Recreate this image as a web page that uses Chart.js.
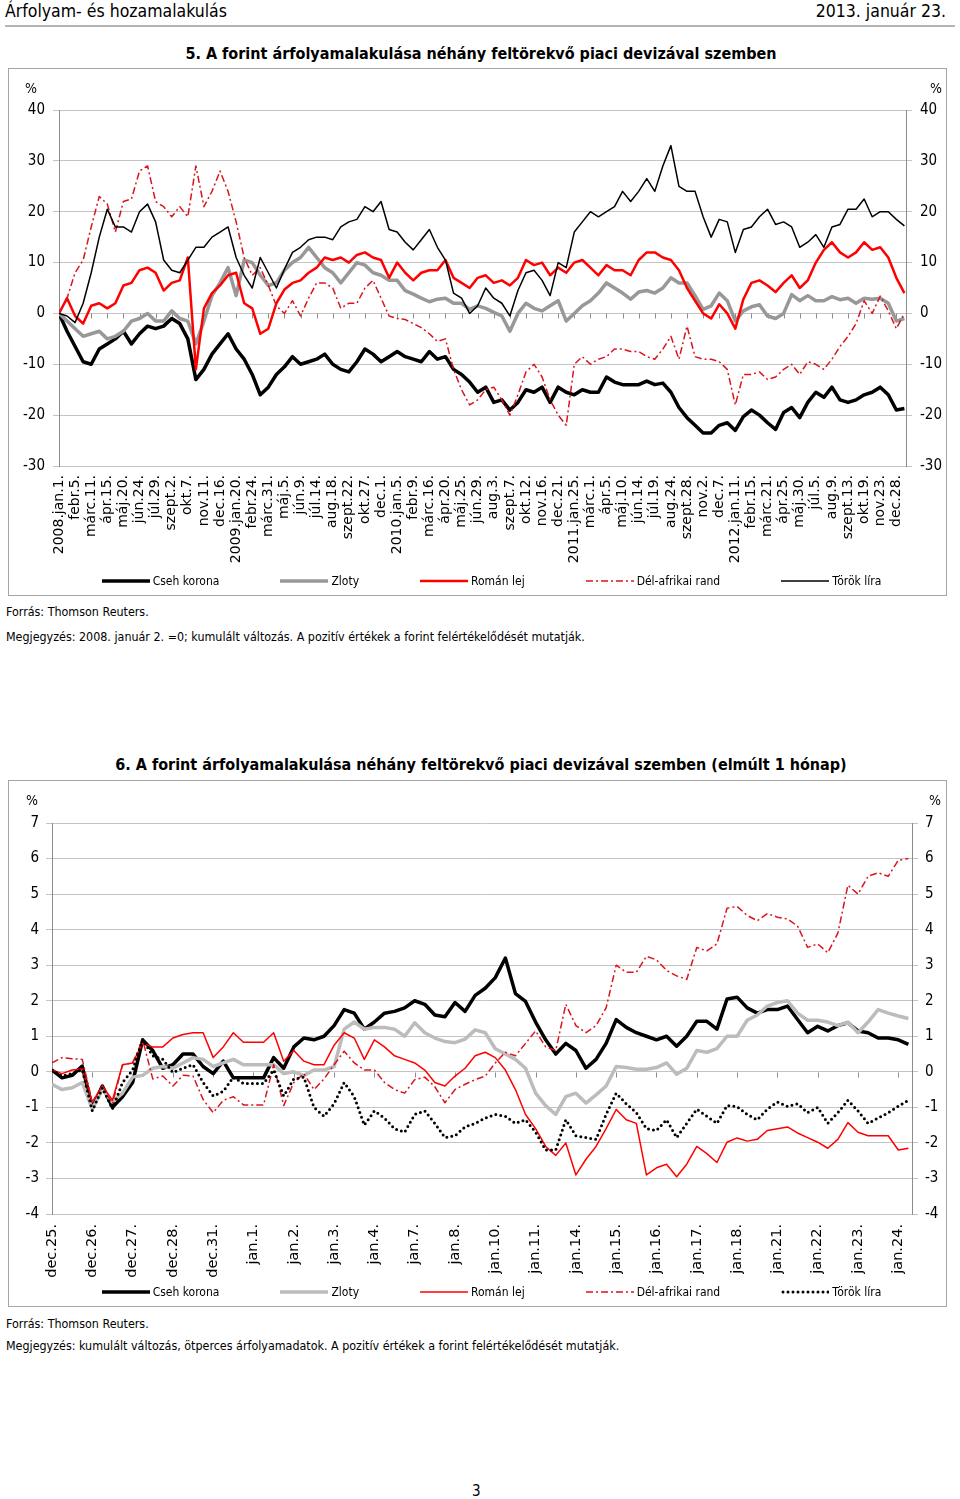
<!DOCTYPE html>
<html><head><meta charset="utf-8">
<script src="https://cdn.jsdelivr.net/npm/chart.js@4.4.1/dist/chart.umd.min.js"></script>
<style>
body{margin:0;background:#fff;}
#page{position:relative;width:960px;height:1499px;font-family:'DejaVu Sans Condensed','DejaVu Sans',sans-serif;color:#000;overflow:hidden;}
.t{position:absolute;white-space:nowrap;line-height:20px;}
.box{position:absolute;border:1px solid #a6a6a6;box-sizing:border-box;}
.box canvas{position:absolute;left:0;top:0;}
.legend{position:absolute;display:flex;justify-content:center;align-items:center;gap:61px;font-size:12px;height:16px;}
.legend .it{display:flex;align-items:center;gap:3px;}
.note{font-size:12.4px;}
</style></head>
<body><div id="page">
<div class="t" style="left:5px;top:1px;font-size:17.5px;">Árfolyam- és hozamalakulás</div>
<div class="t" style="right:14px;top:1px;font-size:17.5px;">2013. január 23.</div>
<div style="position:absolute;left:5px;top:25px;width:950px;height:2px;background:#b4b4b4;"></div>

<div class="t" style="left:0;width:962px;text-align:center;top:44px;font-size:16px;font-weight:bold;">5. A forint árfolyamalakulása néhány feltörekvő piaci devizával szemben</div>
<div class="box" style="left:8px;top:68px;width:939px;height:528px;"><canvas id="c5" width="937" height="526"></canvas></div>
<div class="t" style="left:25px;top:78px;font-size:14px;">%</div>
<div class="t" style="left:930px;top:78px;font-size:14px;">%</div>
<div class="legend" id="lg5" style="left:22px;top:573px;width:939px;"></div>
<div class="t note" style="left:6px;top:602px;">Forrás: Thomson Reuters.</div>
<div class="t note" style="left:6px;top:627px;">Megjegyzés: 2008. január 2. =0; kumulált változás. A pozitív értékek a forint felértékelődését mutatják.</div>

<div class="t" style="left:0;width:962px;text-align:center;top:755px;font-size:16px;font-weight:bold;">6. A forint árfolyamalakulása néhány feltörekvő piaci devizával szemben (elmúlt 1 hónap)</div>
<div class="box" style="left:8px;top:780px;width:939px;height:527px;"><canvas id="c6" width="937" height="525"></canvas></div>
<div class="t" style="left:26px;top:790px;font-size:14px;">%</div>
<div class="t" style="left:929px;top:790px;font-size:14px;">%</div>
<div class="legend" id="lg6" style="left:22px;top:1284px;width:939px;"></div>
<div class="t note" style="left:6px;top:1314px;">Forrás: Thomson Reuters.</div>
<div class="t note" style="left:6px;top:1336px;">Megjegyzés: kumulált változás, ötperces árfolyamadatok. A pozitív értékek a forint felértékelődését mutatják.</div>

<div class="t" style="left:472px;top:1481px;font-size:15px;">3</div>
</div>
<script>
// ---------- Chart 5 data (points every half label interval, 2008.jan.1 – 2013.jan.22) ----------
const ticks5 = ['2008.jan.1.','febr.5.','márc.11.','ápr.15.','máj.20.','jún.24.','júl.29.','szept.2.','okt.7.','nov.11.','dec.16.',
 '2009.jan.20.','febr.24.','márc.31.','máj.5.','jún.9.','júl.14.','aug.18.','szept.22.','okt.27.','dec.1.',
 '2010.jan.5.','febr.9.','márc.16.','ápr.20.','máj.25.','jún.29.','aug.3.','szept.7.','okt.12.','nov.16.','dec.21.',
 '2011.jan.25.','márc.1.','ápr.5.','máj.10.','jún.14.','júl.19.','aug.24.','szept.28.','nov.2.','dec.7.',
 '2012.jan.11.','febr.15.','márc.21.','ápr.25.','máj.30.','júl.5.','aug.9.','szept.13.','okt.19.','nov.23.','dec.28.'];
const step5 = 0.5;
const xMax5 = 52.6;
const czk5 = [0,-3.5,-6.5,-9.5,-10,-7,-6,-5,-3.5,-6,-4,-2.5,-3,-2.5,-1,-2,-5,-13,-11,-8,-6,-4,-7,-9,-12,-16,-14.5,-12,-10.5,-8.5,-10,-9.5,-9,-8,-10,-11,-11.5,
 -9.5,-7,-8,-9.5,-8.5,-7.5,-8.5,-9,-9.5,-7.5,-9,-8.5,-11,-12,-13.5,-15.5,-14.5,-17.5,-17,-19,-17.5,-15,-15.5,-14.5,-17.5,-14.5,-15.5,-16,-15,-15.5,-15.5,-12.5,-13.5,-14,-14,-14,
 -13.3,-14,-13.7,-15.5,-18.5,-20.5,-22,-23.5,-23.5,-22,-21.5,-23,-20.3,-19,-20,-21.5,-22.8,-19.5,-18.5,-20.5,-17.5,-15.5,-16.5,-14.5,-17,-17.5,-17,-16,-15.5,-14.5,-16,-19,-18.7];
const pln5 = [0,-1.5,-3,-4.5,-4,-3.5,-5,-4.5,-3.5,-1.5,-1,0,-1.5,-1.5,0.5,-1,-1.5,-6,-1.5,3.5,6,9,3.5,10.5,10,7.5,5.5,6,8.5,10,11,13,11,9,8,6,8,
 10,9.5,8,7.5,6.5,6.5,4.5,3.8,3,2.3,2.8,3,2,2,0.8,1.5,1,0.2,-0.5,-3.5,0,2,1,0.5,1.5,2.5,-1.5,0,1.5,2.5,4,6,5,4,2.8,4.2,
 4.5,4,5,7,6,6,3.5,0.8,1.5,4,2.5,-1.5,0.5,1.3,1.7,-0.5,-1,0,3.7,2.5,3.5,2.5,2.5,3.3,2.7,3,2,3,2.8,3,2,-1.5,-1];
const ron5 = [0,3,-0.5,-2,1.5,2,1,2,5.5,6,8.5,9,8,4.5,6,6.5,11,-11,1,4,5.5,7.5,8,2,1,-4,-3,2,4.7,6,6.5,8,9,11,10.5,11,10,
 11.5,12,11,10.5,7,10,8,6.5,8,8.5,8.5,10.5,7,6,5,7,7.5,6,6.5,5.5,7,10.5,9.5,10,7.5,9,8,10,10.5,9,7.5,9.5,8.5,8.5,7.5,10.5,
 12,12,11,10.5,8.5,5,2.5,0,-1,1.8,0,-3,2.8,6,6.5,5.5,4.2,6,7.5,5,6.5,10,12.5,14,12,11,12,14,12.5,13,11,7,4];
const zar5 = [0,3,8,10.5,17,23,21.5,16,22,22.5,28,29,22,21,19,21,19,29,21,24,28,24,18,11,7.5,9,5.5,1.5,0,2.5,-0.5,3,6,6,5,1,2,
 2,5,6.5,3,-0.5,-1,-1.2,-2,-2.8,-4,-5.5,-5,-11,-15,-18,-17,-15,-14.5,-17,-20,-16,-11.5,-10,-12.5,-17,-20,-22,-10,-8.5,-10,-9,-8.5,-7,-7,-7.5,-7.5,
 -8.5,-9,-7,-4.5,-9,-2.5,-8.5,-9,-9,-9.5,-11,-18,-12,-12,-11.5,-13,-12.5,-11,-10,-12,-9.5,-10,-11,-9,-6.5,-4.5,-2,2.5,0,3.4,0.5,-3,0];
const try5 = [0,-0.5,-1.8,2,8,15,20.5,17,17,16,20,21.5,18,10.5,8.5,8,10.5,13,13,15,16,17,11,7.5,5,11,8,5,8.7,12,13,14.5,15,15,14.5,17,18,
 18.5,21,20,22,16.5,16,14,12.5,14.5,16.5,13,10.5,4,3,0,1.5,5,3,2,-0.5,4.5,8,8.5,6.5,3.5,10,9,16,18,20,19,20,21,24,22,24,
 26.5,24,29,33,25,24,24,19,15,18.5,18,12,16.5,17,19,20.5,17.5,18,17,13,14,15.5,13,17,17.5,20.5,20.5,22.5,19,20,20,18.5,17.2];

// ---------- Chart 6 data (points every quarter day label, dec.25 – jan.23) ----------
const ticks6 = ['dec.25.','dec.26.','dec.27.','dec.28.','dec.31.','jan.1.','jan.2.','jan.3.','jan.4.','jan.7.','jan.8.',
 'jan.10.','jan.11.','jan.14.','jan.15.','jan.16.','jan.17.','jan.18.','jan.21.','jan.22.','jan.23.','jan.24.'];
const step6 = 0.25;
const xMax6 = 21.34;
const czk6 = [0.05,-0.17,-0.1,0.16,-1.0,-0.4,-1.0,-0.7,-0.3,0.9,0.6,0.1,0.2,0.5,0.5,0.15,-0.05,0.3,-0.17,-0.17,-0.17,-0.17,0.4,0.1,0.7,0.95,0.9,1.0,1.3,
 1.75,1.65,1.2,1.4,1.65,1.7,1.8,2.0,1.9,1.6,1.55,1.95,1.7,2.15,2.35,2.65,3.2,2.2,1.98,1.4,0.9,0.5,0.8,0.6,0.1,0.35,0.8,1.47,1.25,
 1.1,1.0,0.9,1.0,0.72,1.0,1.42,1.42,1.2,2.05,2.1,1.8,1.65,1.75,1.75,1.85,1.47,1.1,1.28,1.15,1.3,1.38,1.15,1.1,0.95,0.95,0.9,0.77];
const pln6 = [-0.35,-0.5,-0.45,-0.3,-1.05,-0.5,-0.85,-0.6,-0.15,-0.1,0.1,0.15,0.1,0.25,0.4,0.35,0.15,0.25,0.35,0.2,0.2,0.2,0.2,-0.05,0,-0.1,0.05,0.05,0.15,
 1.2,1.4,1.2,1.25,1.25,1.2,1.0,1.38,1.1,0.95,0.85,0.82,0.92,1.18,1.1,0.65,0.5,0.35,0.1,-0.6,-0.95,-1.2,-0.7,-0.6,-0.88,-0.65,-0.4,0.15,0.12,
 0.07,0.07,0.12,0.25,-0.07,0.1,0.6,0.55,0.65,1.0,1.0,1.45,1.6,1.85,1.95,2.0,1.65,1.45,1.45,1.4,1.3,1.4,1.1,1.4,1.75,1.65,1.57,1.5];
const ron6 = [0.05,-0.05,0.05,0.08,-0.85,-0.4,-0.8,0.2,0.25,0.8,0.7,0.7,0.95,1.05,1.1,1.1,0.4,0.7,1.1,0.83,0.83,0.83,1.1,0.3,0.6,0.3,0.2,0.2,0.75,
 1.1,0.95,0.35,0.9,0.7,0.45,0.35,0.25,0.05,-0.3,-0.4,-0.12,0.1,0.45,0.55,0.4,0.05,-0.5,-1.2,-1.6,-2.1,-2.35,-2.0,-2.9,-2.46,-2.1,-1.6,-1.06,-1.35,
 -1.45,-2.9,-2.7,-2.6,-2.95,-2.6,-2.1,-2.3,-2.55,-1.98,-1.86,-1.95,-1.9,-1.65,-1.6,-1.55,-1.72,-1.85,-1.98,-2.15,-1.9,-1.43,-1.7,-1.8,-1.8,-1.8,-2.2,-2.15];
const zar6 = [0.25,0.4,0.37,0.35,-0.85,-0.4,-0.9,0.2,0.25,0.9,-0.2,-0.12,-0.4,-0.1,-0.12,-0.78,-1.15,-0.8,-0.7,-0.93,-0.93,-0.93,0.2,-0.95,-0.3,-0.05,-0.5,-0.2,0.2,
 0.58,0.25,0.05,0.05,-0.3,-0.5,-0.6,-0.22,-0.15,-0.42,-0.87,-0.5,-0.35,-0.22,-0.12,0.25,0.55,0.45,0.8,1.15,0.7,0.6,1.9,1.3,1.1,1.3,1.8,3.0,2.8,
 2.8,3.25,3.15,2.85,2.7,2.6,3.5,3.4,3.6,4.6,4.65,4.4,4.25,4.45,4.35,4.3,4.1,3.5,3.6,3.35,3.9,5.25,5.0,5.5,5.6,5.5,5.95,6.0];
const try6 = [0.05,-0.12,-0.05,0.06,-1.1,-0.45,-1.05,-0.3,0.05,0.9,0.45,0.35,-0.02,0.1,0.2,-0.3,-0.68,-0.55,-0.15,-0.33,-0.33,-0.33,0.05,-0.68,-0.2,-0.15,-1.0,-1.25,-0.9,
 -0.3,-0.7,-1.5,-1.1,-1.3,-1.6,-1.7,-1.2,-1.1,-1.45,-1.85,-1.8,-1.55,-1.45,-1.3,-1.2,-1.25,-1.45,-1.35,-1.7,-2.2,-2.2,-1.35,-1.8,-1.85,-1.9,-1.2,-0.6,-0.9,
 -1.15,-1.6,-1.65,-1.35,-1.85,-1.45,-1.05,-1.25,-1.45,-0.95,-0.98,-1.2,-1.35,-1.05,-0.85,-0.97,-0.9,-1.15,-1.0,-1.45,-1.15,-0.8,-1.1,-1.45,-1.3,-1.15,-0.97,-0.8];

const names = ['Cseh korona','Zloty','Román lej','Dél-afrikai rand','Török líra'];

// ---------- styles ----------
const FONT = "'DejaVu Sans Condensed','DejaVu Sans',sans-serif";
const XFONT = "'DejaVu Sans',sans-serif";
const GRID = '#c4c4c4', AXIS = '#8c8c8c';
const style5 = [
  {color:'#000000', width:3.5, dash:[], cap:'butt'},
  {color:'#989898', width:3.5, dash:[], cap:'butt'},
  {color:'#ff0000', width:2.5, dash:[], cap:'butt'},
  {color:'#d9141b', width:1.5, dash:[7,3,2,3], cap:'butt'},
  {color:'#000000', width:1.5, dash:[], cap:'butt'}
];
const style6 = [
  {color:'#000000', width:3.5, dash:[], cap:'butt'},
  {color:'#bcbcbc', width:3.5, dash:[], cap:'butt'},
  {color:'#ff0000', width:1.5, dash:[], cap:'butt'},
  {color:'#d9141b', width:1.5, dash:[7,3,2,3], cap:'butt'},
  {color:'#000000', width:3, dash:[0,5], cap:'round'}
];

const toPts = (arr, step) => arr.map((v, k) => ({x: k * step, y: v}));

const zeroTicks = {
  id: 'zeroTicks',
  beforeDatasetsDraw(chart) {
    const {ctx, scales: {x, y}} = chart;
    const y0 = Math.round(y.getPixelForValue(0)) + 0.5;
    ctx.save();
    ctx.strokeStyle = AXIS; ctx.lineWidth = 1;
    x.ticks.forEach(t => {
      const px = Math.round(x.getPixelForValue(t.value)) + 0.5;
      ctx.beginPath(); ctx.moveTo(px, y0); ctx.lineTo(px, y0 + 5); ctx.stroke();
    });
    ctx.restore();
  }
};

function makeChart(id, series, styles, step, xMax, tickLabels, yMin, yMax, yStep, dims) {
  const datasets = series.map((arr, k) => ({
    label: names[k],
    data: toPts(arr, step),
    borderColor: styles[k].color,
    backgroundColor: styles[k].color,
    borderWidth: styles[k].width,
    borderDash: styles[k].dash,
    borderCapStyle: styles[k].cap,
    borderJoinStyle: 'round',
    pointRadius: 0,
    tension: 0,
    fill: false,
    order: series.length - k
  }));
  const yAxis = (pos, width) => ({
    type: 'linear', position: pos, min: yMin, max: yMax,
    afterFit: s => { s.width = width; },
    ticks: {stepSize: yStep, color: '#000', padding: dims.tickPad, font: {family: FONT, size: 15}},
    grid: {color: GRID, lineWidth: 1, tickLength: 6, drawOnChartArea: pos === 'left', tickColor: GRID},
    border: {display: true, color: AXIS, width: 1}
  });
  return new Chart(document.getElementById(id), {
    type: 'line',
    data: {datasets},
    plugins: [zeroTicks],
    options: {
      responsive: false, animation: false,
      layout: {padding: {top: dims.top, bottom: dims.bottom, left: 0, right: 0}},
      plugins: {legend: {display: false}, tooltip: {enabled: false}},
      scales: {
        x: {
          type: 'linear', position: 'bottom', min: 0, max: xMax,
          afterFit: s => { s.height = dims.xh; },
          afterBuildTicks: s => { s.ticks = tickLabels.map((_, k) => ({value: k})); },
          ticks: {autoSkip: false, minRotation: 90, maxRotation: 90, padding: dims.xPad, color: '#000',
                  font: {family: XFONT, size: dims.xSize},
                  callback: (v, i) => tickLabels[i]},
          grid: {display: false, drawTicks: false},
          border: {display: false}
        },
        y: yAxis('left', dims.left),
        y2: yAxis('right', dims.right)
      }
    }
  });
}

makeChart('c5', [czk5, pln5, ron5, zar5, try5], style5, step5, xMax5, ticks5, -30, 40, 10,
  {top: 41, bottom: 29, xh: 100, left: 50, right: 40, tickPad: 8, xPad: 9, xSize: 14});
makeChart('c6', [czk6, pln6, ron6, zar6, try6], style6, step6, xMax6, ticks6, -4, 7, 1,
  {top: 42, bottom: 12, xh: 80, left: 43, right: 34, tickPad: 7, xPad: 10, xSize: 14.5});

function buildLegend(id, styles) {
  const el = document.getElementById(id);
  names.forEach((n, k) => {
    const s = styles[k];
    const it = document.createElement('div'); it.className = 'it';
    it.innerHTML = '<svg width="48" height="8"><line x1="' + (s.cap === 'round' ? 2 : 0) + '" y1="4" x2="48" y2="4" stroke="' + s.color +
      '" stroke-width="' + s.width + '" stroke-linecap="' + s.cap + '" stroke-dasharray="' + (s.dash.length ? s.dash.join(' ') : 'none') + '"/></svg><span>' + n + '</span>';
    el.appendChild(it);
  });
}
buildLegend('lg5', style5);
buildLegend('lg6', style6);
</script>
</body></html>
